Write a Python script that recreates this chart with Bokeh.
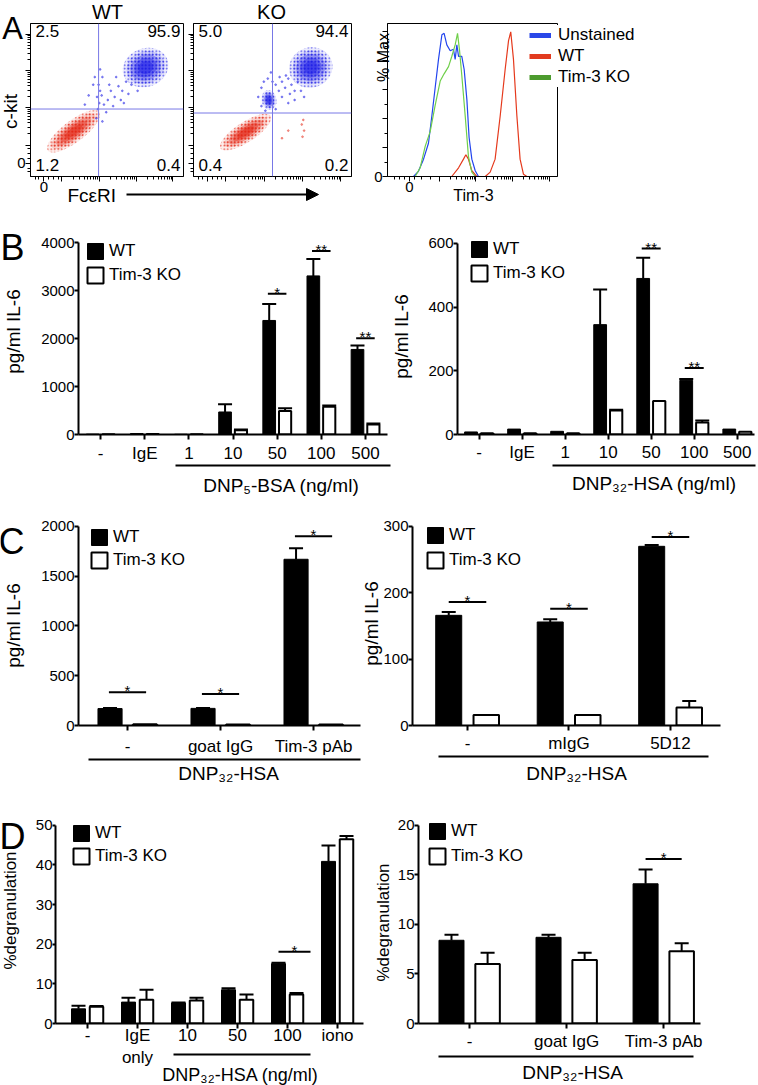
import math
from bokeh.plotting import figure
from bokeh.models import (ColumnDataSource, Label, Arrow, NormalHead, TeeHead, Whisker,
                          FixedTicker, Legend, LegendItem, Span, Range1d, GridBox)
from bokeh.layouts import row, column
from bokeh.embed import file_html
from bokeh.resources import INLINE

FONT = "Liberation Sans"
PAGE_W, PAGE_H = 758, 1085

# ============================ DATA ============================
# ---- Panel A: dot plots (FcεRI vs c-kit); quadrant % : UL, UR, LL, LR
quad_wt = ["2.5", "95.9", "1.2", "0.4"]
quad_ko = ["5.0", "94.4", "0.4", "0.2"]
gate_wt = [445, 441]          # FcεRI gate, c-kit gate
gate_ko = [500, 415]
# populations: centre x, centre y, width, height, tilt(deg)
wt_blue_pop = [[752, 712, 290, 240, 20]]
wt_red_pop = [[282, 295, 400, 135, 37]]
ko_blue_pop = [[742, 712, 265, 250, 20], [478, 500, 90, 125, 10]]
ko_red_pop = [[330, 290, 360, 125, 33]]
wt_scatter_x = [440, 450, 435, 455, 445, 430, 465, 480, 505, 525, 550, 575, 600, 625, 470,
                515, 540, 590, 380, 410, 640, 660, 560, 495, 455, 420, 610, 700, 355, 470]
wt_scatter_y = [440, 480, 520, 560, 600, 380, 530, 470, 500, 560, 520, 590, 560, 620, 650,
                600, 460, 500, 530, 600, 540, 600, 650, 420, 700, 650, 480, 560, 470, 360]
ko_scatter_x = [430, 445, 520, 540, 560, 580, 600, 620, 640, 660, 500, 470, 455, 560, 600,
                680, 700, 520, 410, 640, 585, 545, 490, 430, 610]
ko_scatter_y = [580, 620, 600, 560, 620, 580, 640, 600, 560, 620, 620, 640, 430, 520, 480,
                560, 520, 440, 520, 500, 660, 650, 680, 460, 540]
ko_red_scatter_x = [690, 700, 685, 695, 560, 600]
ko_red_scatter_y = [260, 300, 340, 370, 250, 300]

# ---- Panel A: Tim-3 histogram (% of max)
hist_names = ["Unstained", "WT", "Tim-3 KO"]
unst_x = [0, 153, 182, 212, 241, 261, 280, 300, 320, 333, 349, 369, 388, 398, 408, 418, 437,
          451, 467, 480, 496, 516, 535, 1000]
unst_y = [0, 0, 3.6, 12, 23, 42, 61, 81, 98, 99, 91, 87, 88, 81, 91, 83, 83, 74, 53, 27, 12, 4, 0, 0]
wth_x = [0, 378, 418, 447, 461, 476, 496, 525, 575, 604, 633, 663, 692, 712, 725, 741, 761,
         780, 800, 820, 1000]
wth_y = [0, 0, 6, 12, 15, 12, 4, 0, 0, 3, 12, 42, 74, 94, 100, 81, 42, 12, 1.5, 0, 0]
koh_x = [0, 163, 192, 222, 251, 280, 310, 333, 359, 378, 398, 412, 424, 437, 457, 476, 496, 516, 1000]
koh_y = [0, 0, 6, 21, 31, 49, 66, 71, 76, 83, 91, 99, 87, 70, 42, 14, 3, 0, 0]

# ---- Panel B: IL-6 (pg/ml)
dose_cats = ["-", "IgE", "1", "10", "50", "100", "500"]
b1_wt = [8, 20, 5, 470, 2380, 3310, 1775]
b1_wt_err = [0, 0, 0, 160, 345, 355, 80]
b1_ko = [5, 10, 5, 90, 490, 580, 210]
b1_ko_err = [0, 0, 0, 15, 60, 25, 20]
b1_sig = ["*", "**", "**"]
b1_sig_idx = [4, 5, 6]
b1_sig_y = [2940, 3830, 2010]

b2_wt = [8, 17, 10, 345, 490, 170, 17]
b2_wt_err = [0, 0, 0, 110, 65, 4, 0]
b2_ko = [4, 4, 4, 75, 105, 38, 9]
b2_ko_err = [0, 0, 0, 3, 0, 6, 0]
b2_sig = ["**", "**"]
b2_sig_idx = [4, 5]
b2_sig_y = [584, 209]

# ---- Panel C: IL-6 (pg/ml) with antibodies
c1_cats = ["-", "goat IgG", "Tim-3 pAb"]
c1_wt = [170, 172, 1670]
c1_wt_err = [5, 5, 110]
c1_ko = [12, 10, 10]
c1_ko_err = [0, 0, 0]
c1_sig = ["*", "*", "*"]
c1_sig_idx = [0, 1, 2]
c1_sig_y = [333, 317, 1900]

c2_cats = ["-", "mIgG", "5D12"]
c2_wt = [166, 156, 270]
c2_wt_err = [5, 4, 2]
c2_ko = [16, 16, 27]
c2_ko_err = [0, 0, 10]
c2_sig = ["*", "*", "*"]
c2_sig_idx = [0, 1, 2]
c2_sig_y = [186, 176, 284]

# ---- Panel D: % degranulation
d1_cats = ["-", "IgE\nonly", "10", "50", "100", "iono"]
d1_wt = [3.7, 5.4, 5.2, 8.5, 15.1, 40.9]
d1_wt_err = [0.8, 1.1, 0.1, 0.4, 0.2, 4.0]
d1_ko = [4.2, 6.0, 5.8, 6.0, 7.3, 46.5]
d1_ko_err = [0.2, 2.5, 0.7, 1.3, 0.4, 0.8]
d1_sig = ["*"]
d1_sig_idx = [4]
d1_sig_y = [18.1]

d2_cats = ["-", "goat IgG", "Tim-3 pAb"]
d2_wt = [8.4, 8.7, 14.1]
d2_wt_err = [0.55, 0.25, 1.45]
d2_ko = [6.0, 6.4, 7.3]
d2_ko_err = [1.15, 0.75, 0.8]
d2_sig = ["*"]
d2_sig_idx = [2]
d2_sig_y = [16.6]


# ============================ HELPERS ============================
def fs(px):
    return f"{px}px"


class Panel:
    def __init__(self, box, frame, xr, yr, xaxis=True, yaxis=True):
        bx0, by0, bx1, by1 = box
        fx0, fy0, fx1, fy1 = frame
        self.fw = fx1 - fx0
        self.fh = fy1 - fy0
        self.fl, self.fb = fx0, fy1
        self.xr, self.yr = xr, yr
        self.p = figure(width=bx1 - bx0, height=by1 - by0, x_range=Range1d(*xr),
                        y_range=Range1d(*yr), output_backend="svg", toolbar_location=None,
                        x_axis_location="below" if xaxis else None,
                        y_axis_location="left" if yaxis else None,
                        min_border_left=fx0 - bx0, min_border_right=bx1 - fx1,
                        min_border_top=fy0 - by0, min_border_bottom=by1 - fy1)
        self.p.grid.visible = False
        self.p.outline_line_color = None
        self.p.background_fill_color = "white"
        self.p.border_fill_color = "white"

    def dx(self, rx):
        return self.xr[0] + (rx - self.fl) / self.fw * (self.xr[1] - self.xr[0])

    def dy(self, ry):
        return self.yr[0] + (self.fb - ry) / self.fh * (self.yr[1] - self.yr[0])

    def ux(self):
        return (self.xr[1] - self.xr[0]) / self.fw

    def uy(self):
        return (self.yr[1] - self.yr[0]) / self.fh

    def text(self, s, rx, ry, size, align="center"):
        self.p.add_layout(Label(x=self.dx(rx), y=self.dy(ry), text=s, text_font=FONT,
                                text_font_size=fs(size), text_align=align,
                                text_baseline="middle", text_color="black"))


# overlay figure (whole page) for texts and rules that lie outside the plot frames
ov = figure(width=PAGE_W, height=PAGE_H, x_range=Range1d(0, PAGE_W), y_range=Range1d(0, PAGE_H),
            output_backend="svg", toolbar_location=None, x_axis_location=None,
            y_axis_location=None, min_border=0, background_fill_color=None,
            border_fill_color=None, outline_line_color=None)
ov.grid.visible = False


def otext(s, x, y, size, align="center", angle=0.0, baseline="middle"):
    ov.add_layout(Label(x=x, y=PAGE_H - y, text=s, text_font=FONT, text_font_size=fs(size),
                        text_align=align, text_baseline=baseline, angle=angle,
                        text_color="black"))


def orule(x0, x1, y, end=None):
    ov.add_layout(Arrow(start=None, end=end, x_start=x0, y_start=PAGE_H - y, x_end=x1,
                        y_end=PAGE_H - y, line_width=2, line_color="black"))


def style_ticks(ax, size, standoff, out, width=2):
    ax.axis_line_color = "black"
    ax.axis_line_width = width
    ax.major_tick_line_color = "black"
    ax.major_tick_line_width = width
    ax.major_tick_out = out
    ax.major_tick_in = 0
    ax.minor_tick_line_color = None
    ax.major_label_text_font = FONT
    ax.major_label_text_font_size = fs(size)
    ax.major_label_text_color = "black"
    ax.major_label_standoff = standoff


EXT = 18  # extra frame room (px) above the top tick so legends/stars are never clipped


def bar_panel(cfg):
    fx0, fy0, fx1, fy1 = cfg["frame"]
    ymax = cfg["yr"][1]
    ytop = ymax * (1 + EXT / (fy1 - fy0))
    P = Panel(cfg["box"], (fx0, fy0 - EXT, fx1, fy1), cfg["xr"], (0, ytop))
    p = P.p
    cats = cfg["cats"]
    idx = list(range(len(cats)))
    off, bw = cfg["off"], cfg["bw"]
    wx = [i - off for i in idx]
    kx = [i + off for i in idx]
    r_wt = p.vbar(x="x", top="top", bottom=0, width=bw - P.ux(),
                  source=ColumnDataSource(dict(x=wx, top=cfg["wt"])),
                  fill_color="black", line_color="black", line_width=1)
    r_ko = p.vbar(x="x", top="top", bottom=0, width=bw - 1.5 * P.ux(),
                  source=ColumnDataSource(dict(x=kx, top=cfg["ko"])),
                  fill_color="white", line_color="black", line_width=2)
    for xs, tops, errs in ((wx, cfg["wt"], cfg["wt_err"]), (kx, cfg["ko"], cfg["ko_err"])):
        ex = [x for x, e in zip(xs, errs) if e > 0]
        lo = [t for t, e in zip(tops, errs) if e > 0]
        hi = [t + e for t, e in zip(tops, errs) if e > 0]
        if ex:
            p.add_layout(Whisker(source=ColumnDataSource(dict(x=ex, lo=lo, hi=hi)),
                                 base="x", lower="lo", upper="hi", dimension="height",
                                 lower_head=None,
                                 upper_head=TeeHead(size=14, line_width=2, line_color="black"),
                                 line_width=2, line_color="black"))
    slo, shi = cfg["sig_span"]
    for i, t, lvl in zip(cfg["sig_idx"], cfg["sig"], cfg["sig_y"]):
        p.segment(x0=[i + slo], y0=[lvl], x1=[i + shi], y1=[lvl], line_width=2, line_color="black")
        p.add_layout(Label(x=i + (slo + shi) / 2, y=lvl + 1.5 * P.uy(), text=t, text_font=FONT,
                           text_font_size=fs(15), text_align="center",
                           text_baseline="alphabetic", text_color="black"))
    yax = p.yaxis[0]
    yax.ticker = FixedTicker(ticks=cfg["yticks"])
    yax.bounds = (0, ymax)
    style_ticks(yax, 15, 0, cfg.get("ytick_out", 4))
    xax = p.xaxis[0]
    xax.ticker = FixedTicker(ticks=idx)
    xax.major_label_overrides = {i: c for i, c in enumerate(cats)}
    style_ticks(xax, 17, cfg.get("xstand", 4), 5)
    gl, gt = cfg["legend"]
    sp = cfg.get("leg_sp", 4)
    h = 2 * 20 + sp
    p.add_layout(Legend(items=[LegendItem(label="WT", renderers=[r_wt]),
                               LegendItem(label="Tim-3 KO", renderers=[r_ko])],
                        location=(gl - P.fl, P.fb - gt - h), glyph_width=20, glyph_height=20,
                        spacing=sp, padding=0, margin=0, label_standoff=4,
                        label_text_font=FONT, label_text_font_size=fs(17),
                        label_text_color="black",
                        border_line_color=None, background_fill_alpha=0))
    yl, (ylx, yly), ys = cfg["ytitle"]
    otext(yl, ylx, yly, ys, angle=math.pi / 2)
    bx0, bx1, by = cfg["bracket"]
    orule(bx0, bx1, by)
    bl, blx, bly, bls = cfg["bracket_label"]
    otext(bl, blx, bly, bls)
    if "letter" in cfg:
        L, lx, ly = cfg["letter"]
        otext(L, lx, ly, 36)
    return P


# ============================ PANEL A ============================
dot_major = [88, 205, 448, 690, 930]
dot_minor = [30, 55, 120, 150, 180] + [d + round(242 * math.log10(k)) for d in (205, 448, 690)
                                       for k in range(2, 10)]


def dot_panel(box, frame, pops_blue, pops_red, sx, sy, rsx, rsy, gate, quad, show0):
    P = Panel(box, frame, (0, 1000), (0, 1000))
    p = P.p
    p.outline_line_color = "black"
    p.outline_line_width = 1
    for pops, col in ((pops_red, "#e3210f"), (pops_blue, "#1a1ae6")):
        for s, a, hatch in ((1.05, 0.08, "dot"), (0.88, 0.14, "dot"), (0.7, 0.32, None),
                            (0.52, 0.4, None), (0.34, 0.45, None)):
            kw = dict(hatch_pattern=hatch, hatch_color=col, hatch_scale=3.5,
                      hatch_alpha=0.75) if hatch else {}
            p.ellipse(x=[q[0] for q in pops], y=[q[1] for q in pops],
                      width=[q[2] * s for q in pops], height=[q[3] * s for q in pops],
                      angle=[q[4] for q in pops], angle_units="deg",
                      fill_color=col, fill_alpha=a, line_color=None, **kw)
    p.scatter(x=sx, y=sy, size=1.8, color="#3030e8", alpha=0.5)
    if rsx:
        p.scatter(x=rsx, y=rsy, size=1.8, color="#e3210f", alpha=0.4)
    p.add_layout(Span(location=gate[0], dimension="height", line_color="#7878e6", line_width=1))
    p.add_layout(Span(location=gate[1], dimension="width", line_color="#7878e6", line_width=1))
    for ax in (p.xaxis[0], p.yaxis[0]):
        ax.ticker = FixedTicker(ticks=dot_major, minor_ticks=dot_minor)
        ax.major_label_overrides = {m: ("0" if (k == 0 and show0) else "")
                                    for k, m in enumerate(dot_major)}
        ax.axis_line_color = "black"
        ax.axis_line_width = 1
        ax.major_tick_out = 5
        ax.major_tick_in = 0
        ax.minor_tick_out = 3
        ax.minor_tick_in = 0
        ax.major_label_text_font = FONT
        ax.major_label_text_font_size = fs(15)
        ax.major_label_text_color = "black"
        ax.major_label_standoff = 0
    fx0, fy0, fx1, fy1 = frame
    P.text(quad[0], fx0 + 5, fy0 + 8, 17, align="left")
    P.text(quad[1], fx1 - 3, fy0 + 8, 17, align="right")
    P.text(quad[2], fx0 + 5, fy1 - 12, 17, align="left")
    P.text(quad[3], fx1 - 3, fy1 - 12, 17, align="right")
    return P


A_wt = dot_panel((0, 0, 187, 210), (30, 23, 183, 177), wt_blue_pop, wt_red_pop,
                 wt_scatter_x, wt_scatter_y, [], [], gate_wt, quad_wt, True)
A_ko = dot_panel((187, 0, 365, 210), (193, 23, 351, 177), ko_blue_pop, ko_red_pop,
                 ko_scatter_x, ko_scatter_y, ko_red_scatter_x, ko_red_scatter_y,
                 gate_ko, quad_ko, False)
otext("A", 12, 28, 31, baseline="alphabetic")
otext("WT", 107, 11, 20)
otext("KO", 271, 11, 20)
otext("c-kit", 10, 111, 19, angle=math.pi / 2)
otext("FcεRI", 67, 195, 19, align="left")
orule(126, 318, 194, end=NormalHead(size=12, fill_color="black", line_color="black"))

# histogram
A_h = Panel((365, 0, 758, 210), (387, 11, 557, 176), (0, 1000), (0, 105.8))
ph = A_h.p
ph.outline_line_color = "black"
ph.outline_line_width = 1
hist_cols = ["#2244ee", "#e5391c", "#6fcf4a"]
leg_cols = ["#2a48e8", "#e23b1f", "#4c9b2e"]
for xs, ys, c in ((wth_x, wth_y, hist_cols[1]), (unst_x, unst_y, hist_cols[0]),
                  (koh_x, koh_y, hist_cols[2])):
    ph.line(x=xs, y=ys, line_color=c, line_width=1.2)
hyax = ph.yaxis[0]
hyax.ticker = FixedTicker(ticks=[0, 20, 40, 60, 80, 100], minor_ticks=[10, 30, 50, 70, 90])
hyax.major_label_overrides = {v: ("0" if v == 0 else "") for v in [0, 20, 40, 60, 80, 100]}
hx_major = [129, 306, 520, 736, 950]
hx_minor = [40, 70, 100, 160, 200, 250] + [d + round(214 * math.log10(k)) for d in (306, 520, 736)
                                            for k in range(2, 10)]
hxax = ph.xaxis[0]
hxax.ticker = FixedTicker(ticks=hx_major, minor_ticks=hx_minor)
hxax.major_label_overrides = {v: ("0" if v == 129 else "") for v in hx_major}
for ax in (hyax, hxax):
    ax.axis_line_color = "black"
    ax.axis_line_width = 1
    ax.major_tick_out = 5
    ax.major_tick_in = 0
    ax.minor_tick_out = 3
    ax.minor_tick_in = 0
    ax.major_label_text_font = FONT
    ax.major_label_text_font_size = fs(15)
    ax.major_label_text_color = "black"
    ax.major_label_standoff = 0
otext("% Max", 383, 57, 16, angle=math.pi / 2)
otext("Tim-3", 473, 195, 16)
# legend of the histogram (drawn on the page overlay; keys are off-page proxies)
leg_rs = [ov.line(x=[-60, -40], y=[-60, -60], line_color=c, line_width=5) for c in leg_cols]
h_leg_h = 3 * 20 + 2 * 1 + 6
ov.add_layout(Legend(items=[LegendItem(label=n, renderers=[r]) for n, r in zip(hist_names, leg_rs)],
                     location=(529, PAGE_H - 19 - h_leg_h),
                     glyph_width=22, glyph_height=20, spacing=1, padding=3, margin=0,
                     label_standoff=7, label_text_font=FONT, label_text_font_size=fs(17),
                     label_text_color="black",
                     border_line_color=None, background_fill_color="white",
                     background_fill_alpha=1))

# ============================ PANELS B-D ============================
B1 = bar_panel(dict(box=(0, 210, 390, 500), frame=(78, 235, 387, 434), xr=(-0.5, 6.5),
                    yr=(0, 4000), yticks=[0, 1000, 2000, 3000, 4000], cats=dose_cats,
                    wt=b1_wt, wt_err=b1_wt_err, ko=b1_ko, ko_err=b1_ko_err,
                    off=0.18, bw=0.31, sig=b1_sig, sig_idx=b1_sig_idx, sig_y=b1_sig_y,
                    sig_span=(-0.21, 0.21), legend=(85, 241), xstand=4,
                    ytitle=("pg/ml IL-6", (13, 331), 19),
                    bracket=(175, 390, 465), bracket_label=("DNP₅-BSA (ng/ml)", 281, 485, 19),
                    letter=("B", 12, 247)))
B2 = bar_panel(dict(box=(390, 210, 758, 500), frame=(457, 243, 754, 435), xr=(-0.5, 6.4),
                    yr=(0, 600), yticks=[0, 200, 400, 600], cats=dose_cats,
                    wt=b2_wt, wt_err=b2_wt_err, ko=b2_ko, ko_err=b2_ko_err,
                    off=0.186, bw=0.32, sig=b2_sig, sig_idx=b2_sig_idx, sig_y=b2_sig_y,
                    sig_span=(-0.22, 0.22), legend=(469, 240), xstand=3,
                    ytitle=("pg/ml IL-6", (401, 336), 19),
                    bracket=(552, 755, 465), bracket_label=("DNP₃₂-HSA (ng/ml)", 654, 483, 19)))
C1 = bar_panel(dict(box=(0, 500, 362, 795), frame=(78, 526, 360, 726), xr=(-0.527, 2.505),
                    yr=(0, 2000), yticks=[0, 500, 1000, 1500, 2000], cats=c1_cats,
                    wt=c1_wt, wt_err=c1_wt_err, ko=c1_ko, ko_err=c1_ko_err,
                    off=0.188, bw=0.27, sig=c1_sig, sig_idx=c1_sig_idx, sig_y=c1_sig_y,
                    sig_span=(-0.2, 0.2), legend=(89, 528), leg_sp=3, xstand=6,
                    ytitle=("pg/ml IL-6", (13, 625), 19),
                    bracket=(88, 360, 759), bracket_label=("DNP₃₂-HSA", 228, 773, 19),
                    letter=("C", 11, 541)))
C2 = bar_panel(dict(box=(362, 500, 758, 795), frame=(412, 525, 720, 725), xr=(-0.542, 2.493),
                    yr=(0, 300), yticks=[0, 100, 200, 300], cats=c2_cats,
                    wt=c2_wt, wt_err=c2_wt_err, ko=c2_ko, ko_err=c2_ko_err,
                    off=0.185, bw=0.266, sig=c2_sig, sig_idx=c2_sig_idx, sig_y=c2_sig_y,
                    sig_span=(-0.185, 0.185), legend=(425, 525), leg_sp=5, xstand=3,
                    ytitle=("pg/ml IL-6", (371, 623), 19),
                    bracket=(438, 708, 756), bracket_label=("DNP₃₂-HSA", 576, 773, 19)))
D1 = bar_panel(dict(box=(0, 795, 366, 1085), frame=(55, 823, 363, 1023), xr=(-0.64, 5.52),
                    yr=(0, 50), yticks=[0, 10, 20, 30, 40, 50], cats=d1_cats,
                    wt=d1_wt, wt_err=d1_wt_err, ko=d1_ko, ko_err=d1_ko_err,
                    off=0.18, bw=0.3, sig=d1_sig, sig_idx=d1_sig_idx, sig_y=d1_sig_y,
                    sig_span=(-0.18, 0.46), legend=(71, 823), leg_sp=3, xstand=-3,
                    ytick_out=3,
                    ytitle=("%degranulation", (10, 910), 17),
                    bracket=(173, 310, 1054),
                    bracket_label=("DNP₃₂-HSA (ng/ml)", 240, 1074, 18),
                    letter=("D", 12, 836)))
D2 = bar_panel(dict(box=(366, 795, 758, 1085), frame=(418, 825, 700, 1025), xr=(-0.526, 2.38),
                    yr=(0, 20), yticks=[0, 5, 10, 15, 20], cats=d2_cats,
                    wt=d2_wt, wt_err=d2_wt_err, ko=d2_ko, ko_err=d2_ko_err,
                    off=0.186, bw=0.268, sig=d2_sig, sig_idx=d2_sig_idx, sig_y=d2_sig_y,
                    sig_span=(-0.186, 0.186), legend=(427, 823), leg_sp=5, xstand=3,
                    ytitle=("%degranulation", (383, 922), 17),
                    bracket=(438, 693, 1056), bracket_label=("DNP₃₂-HSA", 572, 1072, 19)))

main = column(row(A_wt.p, A_ko.p, A_h.p),
              row(B1.p, B2.p),
              row(C1.p, C2.p),
              row(D1.p, D2.p))
page = GridBox(children=[(main, 0, 0), (ov, 0, 0)])

open("out.html", "w").write(file_html(page, INLINE))
